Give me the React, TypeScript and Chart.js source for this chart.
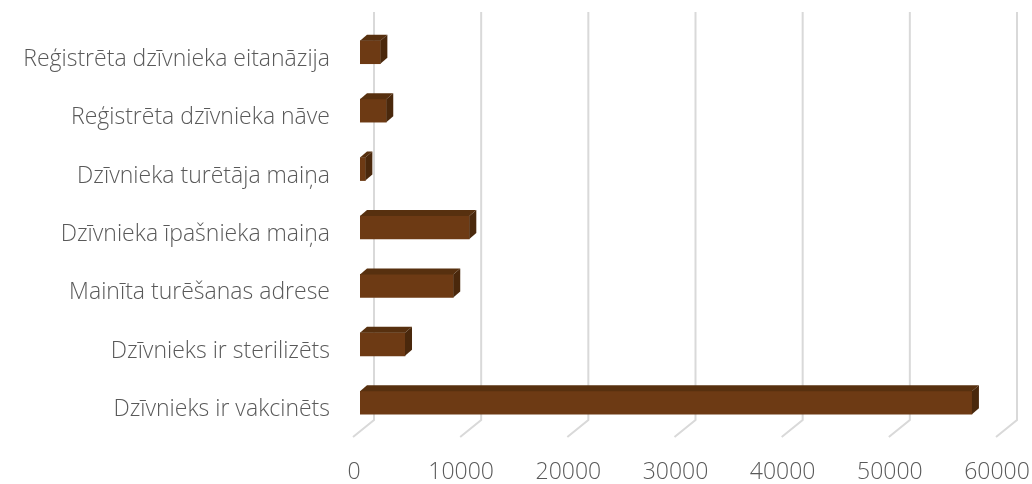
import React, { useEffect, useRef } from "react";
import { Chart, registerables } from "chart.js";

Chart.register(...registerables);

const categories = [
  "Reģistrēta dzīvnieka eitanāzija",
  "Reģistrēta dzīvnieka nāve",
  "Dzīvnieka turētāja maiņa",
  "Dzīvnieka īpašnieka maiņa",
  "Mainīta turēšanas adrese",
  "Dzīvnieks ir sterilizēts",
  "Dzīvnieks ir vakcinēts",
];
const values = [1900, 2450, 500, 10200, 8700, 4200, 57100];
const xTicks = [0, 10000, 20000, 30000, 40000, 50000, 60000];

const FRONT = "#6d3a14";
const TOP = "#57300f";
const SIDE = "#4a280c";
const GRID = "#d9d9d9";
const TEXT = "#595959";
const FONT = "'Open Sans'";
const DX = 7;
const DY = -6;

const threeD = {
  id: "threeD",
  beforeDatasetsDraw(chart: any) {
    const ctx = chart.ctx;
    const xs = chart.scales.x;
    const area = chart.chartArea;
    ctx.save();
    ctx.strokeStyle = GRID;
    ctx.lineWidth = 2;
    const top = area.top - 11;
    const wallBottom = area.bottom - 12;
    const floorFront = area.bottom + 5;
    for (const v of xTicks) {
      const fx = xs.getPixelForValue(v);
      const bx = fx + 14;
      ctx.beginPath();
      ctx.moveTo(bx, top);
      ctx.lineTo(bx, wallBottom);
      ctx.lineTo(bx - 21, floorFront);
      ctx.stroke();
    }
    ctx.restore();
  },
  afterDatasetsDraw(chart: any) {
    const ctx = chart.ctx;
    const meta = chart.getDatasetMeta(0);
    ctx.save();
    meta.data.forEach((bar: any) => {
      const x0 = bar.base;
      const x1 = bar.x;
      const y0 = bar.y - bar.height / 2;
      const y1 = bar.y + bar.height / 2;
      ctx.fillStyle = TOP;
      ctx.beginPath();
      ctx.moveTo(x0, y0);
      ctx.lineTo(x0 + DX, y0 + DY);
      ctx.lineTo(x1 + DX, y0 + DY);
      ctx.lineTo(x1, y0);
      ctx.closePath();
      ctx.fill();
      ctx.fillStyle = SIDE;
      ctx.beginPath();
      ctx.moveTo(x1, y0);
      ctx.lineTo(x1 + DX, y0 + DY);
      ctx.lineTo(x1 + DX, y1 + DY);
      ctx.lineTo(x1, y1);
      ctx.closePath();
      ctx.fill();
    });
    ctx.restore();
  },
};

export default function App() {
  const ref = useRef<HTMLCanvasElement>(null);
  useEffect(() => {
    if (!ref.current) return;
    const chart = new Chart(ref.current, {
      type: "bar",
      data: {
        labels: categories,
        datasets: [
          {
            data: values,
            backgroundColor: FRONT,
            borderWidth: 0,
            barThickness: 23,
          },
        ],
      },
      options: {
        indexAxis: "y",
        animation: false,
        responsive: false,
        maintainAspectRatio: false,
        layout: { padding: { top: 23, right: 29, left: 0, bottom: 0 } },
        plugins: { legend: { display: false }, tooltip: { enabled: false } },
        scales: {
          x: {
            min: 0,
            max: 60000,
            afterBuildTicks: (s: any) => {
              s.ticks = xTicks.map((v) => ({ value: v }));
            },
            afterFit: (s: any) => {
              s.height = 52;
              s.paddingLeft = 0;
              s.paddingRight = 0;
            },
            grid: { display: false },
            border: { display: false },
            ticks: {
              color: TEXT,
              padding: 19,
              labelOffset: -6,
              maxRotation: 0,
              callback: (v: any) => String(v),
              font: { family: FONT, size: 23, weight: "300" },
            },
          },
          y: {
            afterFit: (s: any) => {
              s.width = 360;
              s.paddingTop = 0;
              s.paddingBottom = 0;
            },
            grid: { display: false },
            border: { display: false },
            ticks: {
              color: TEXT,
              padding: 22,
              labelOffset: 7,
              font: { family: FONT, size: 23, weight: "300" },
            },
          },
        },
      },
      plugins: [threeD],
    });
    return () => chart.destroy();
  }, []);
  return (
    <div style={{ position: "absolute", left: 0, top: 0, width: 1032, height: 484, background: "#fff" }}>
      <canvas ref={ref} width={1032} height={484} style={{ width: 1032, height: 484 }} />
    </div>
  );
}
